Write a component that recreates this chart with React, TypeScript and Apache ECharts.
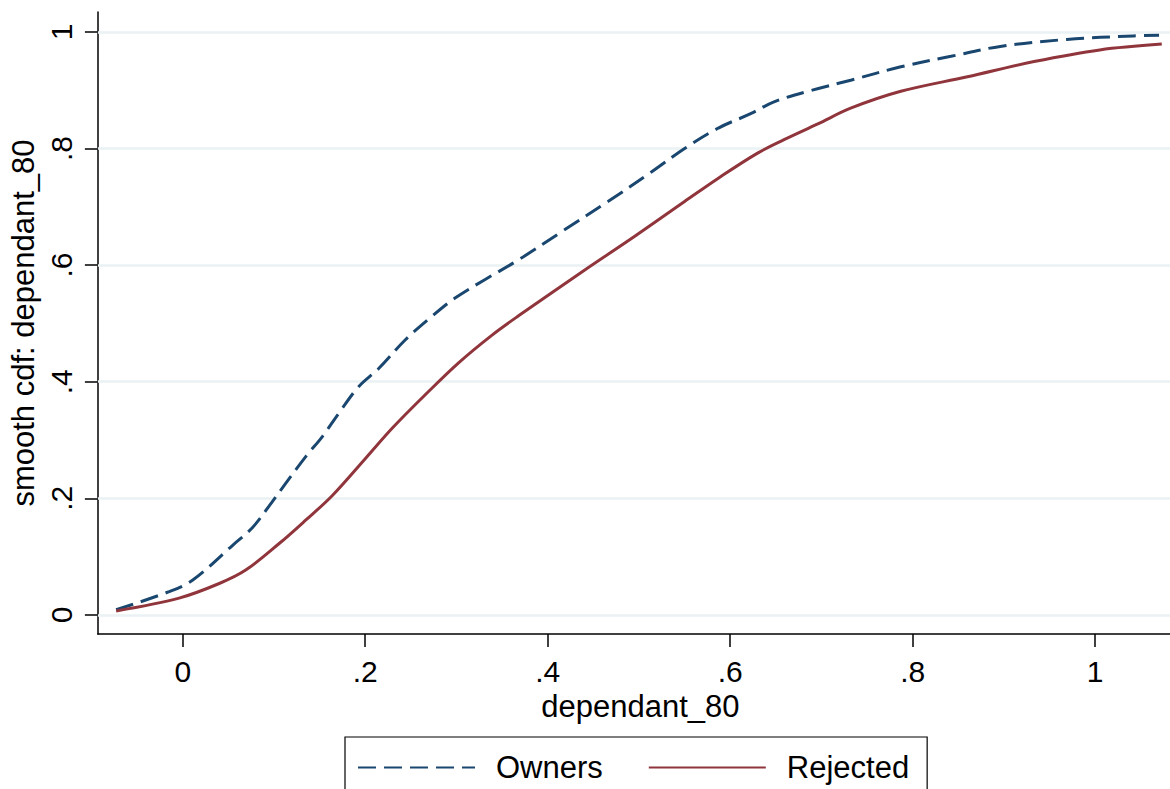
import React, { useEffect, useRef } from "react";
import * as echarts from "echarts";

const xOwners = [-0.073, -0.015, 0.011, 0.055, 0.077, 0.098, 0.113, 0.135, 0.153, 0.171, 0.193, 0.215, 0.244, 0.273, 0.298, 0.331, 0.368, 0.415, 0.466, 0.514, 0.55, 0.587, 0.623, 0.648, 0.69, 0.732, 0.787, 0.842, 0.896, 0.969, 1.042, 1.07];
const yOwners = [0.009, 0.04, 0.06, 0.12, 0.151, 0.194, 0.226, 0.272, 0.306, 0.346, 0.392, 0.423, 0.472, 0.512, 0.543, 0.575, 0.609, 0.657, 0.709, 0.76, 0.8, 0.835, 0.86, 0.88, 0.9, 0.917, 0.94, 0.958, 0.975, 0.987, 0.993, 0.994];

const xRejected = [-0.073, -0.004, 0.04, 0.069, 0.106, 0.135, 0.164, 0.2, 0.23, 0.266, 0.302, 0.339, 0.368, 0.441, 0.495, 0.55, 0.587, 0.63, 0.659, 0.696, 0.732, 0.787, 0.86, 0.933, 1.005, 1.073];
const yRejected = [0.007, 0.029, 0.054, 0.077, 0.123, 0.163, 0.205, 0.268, 0.321, 0.378, 0.432, 0.48, 0.513, 0.592, 0.649, 0.709, 0.749, 0.792, 0.815, 0.842, 0.869, 0.898, 0.923, 0.949, 0.969, 0.979];

const yTickValues = [0, 0.2, 0.4, 0.6, 0.8, 1];
const yTickLabels = ["0", ".2", ".4", ".6", ".8", "1"];
const xTickValues = [0, 0.2, 0.4, 0.6, 0.8, 1];
const xTickLabels = ["0", ".2", ".4", ".6", ".8", "1"];

const seriesNames = ["Owners", "Rejected"];
const xTitle = "dependant_80";
const yTitle = "smooth cdf: dependant_80";

const FONT = "'Liberation Sans', Arial, sans-serif";

function labelFor(values: number[], labels: string[]) {
  return (v: number) => {
    for (let i = 0; i < values.length; i++) {
      if (Math.abs(values[i] - v) < 1e-6) return labels[i];
    }
    return "";
  };
}

export default function App() {
  const ref = useRef<HTMLDivElement>(null);
  useEffect(() => {
    if (!ref.current) return;
    const chart = echarts.init(ref.current, null, { renderer: "svg" });
    const owners = xOwners.map((x, i) => [x, yOwners[i]]);
    const rejected = xRejected.map((x, i) => [x, yRejected[i]]);
    chart.setOption({
      animation: false,
      backgroundColor: "#ffffff",
      textStyle: { fontFamily: FONT },
      grid: { left: 95, right: 0, top: 12, bottom: 155, containLabel: false },
      legend: {
        data: seriesNames,
        left: 345,
        top: 737,
        orient: "horizontal",
        itemWidth: 117,
        itemHeight: 30,
        itemGap: 45,
        padding: [15, 18, 15, 12],
        borderColor: "#000000",
        borderWidth: 1.2,
        backgroundColor: "#ffffff",
        itemStyle: { opacity: 0, color: "transparent", borderWidth: 0 },
        textStyle: { fontSize: 31, color: "#000000", fontFamily: FONT, padding: [0, 0, 0, 16] },
      },
      xAxis: {
        type: "value",
        min: -0.093,
        max: 1.082,
        name: xTitle,
        nameLocation: "middle",
        nameGap: 50,
        nameTextStyle: { fontSize: 31, color: "#000000", fontFamily: FONT, padding: [0, 0, 0, 13] },
        axisLine: { show: true, onZero: false, lineStyle: { color: "#000000", width: 1.5 } },
        axisTick: { show: true, length: 13, customValues: xTickValues, lineStyle: { color: "#000000", width: 1.5 } },
        axisLabel: {
          show: true,
          customValues: xTickValues,
          formatter: labelFor(xTickValues, xTickLabels),
          fontSize: 30,
          color: "#000000",
          fontFamily: FONT,
          margin: 22,
        },
        splitLine: { show: false },
      },
      yAxis: {
        type: "value",
        min: -0.0326,
        max: 1.034,
        name: yTitle,
        nameLocation: "middle",
        nameRotate: 90,
        nameGap: 58,
        nameTextStyle: { fontSize: 31, color: "#000000", fontFamily: FONT },
        axisLine: { show: true, onZero: false, lineStyle: { color: "#000000", width: 1.5 } },
        axisTick: { show: true, length: 13, customValues: yTickValues, lineStyle: { color: "#000000", width: 1.5 } },
        axisLabel: {
          show: true,
          customValues: yTickValues,
          formatter: labelFor(yTickValues, yTickLabels),
          rotate: 90,
          fontSize: 30,
          color: "#000000",
          fontFamily: FONT,
          margin: 21,
        },
        splitLine: { show: false },
      },
      series: [
        {
          name: seriesNames[0],
          type: "line",
          data: owners,
          symbol: "none",
          showSymbol: false,
          smooth: 0.35,
          z: 3,
          lineStyle: { color: "#1a476f", width: 3, type: [18, 8] },
          itemStyle: { color: "#1a476f" },
          markLine: {
            silent: true,
            symbol: "none",
            z: 1,
            label: { show: false },
            lineStyle: { color: "#eaf2f3", width: 2.5, type: "solid" },
            data: yTickValues.map((v) => ({ yAxis: v })),
          },
        },
        {
          name: seriesNames[1],
          type: "line",
          data: rejected,
          symbol: "none",
          showSymbol: false,
          smooth: 0.35,
          z: 3,
          lineStyle: { color: "#90353b", width: 3, type: "solid" },
          itemStyle: { color: "#90353b" },
        },
      ],
    });
    return () => chart.dispose();
  }, []);
  return (
    <div
      ref={ref}
      style={{ position: "fixed", left: 0, top: 0, width: 1170, height: 789, background: "#ffffff" }}
    />
  );
}
